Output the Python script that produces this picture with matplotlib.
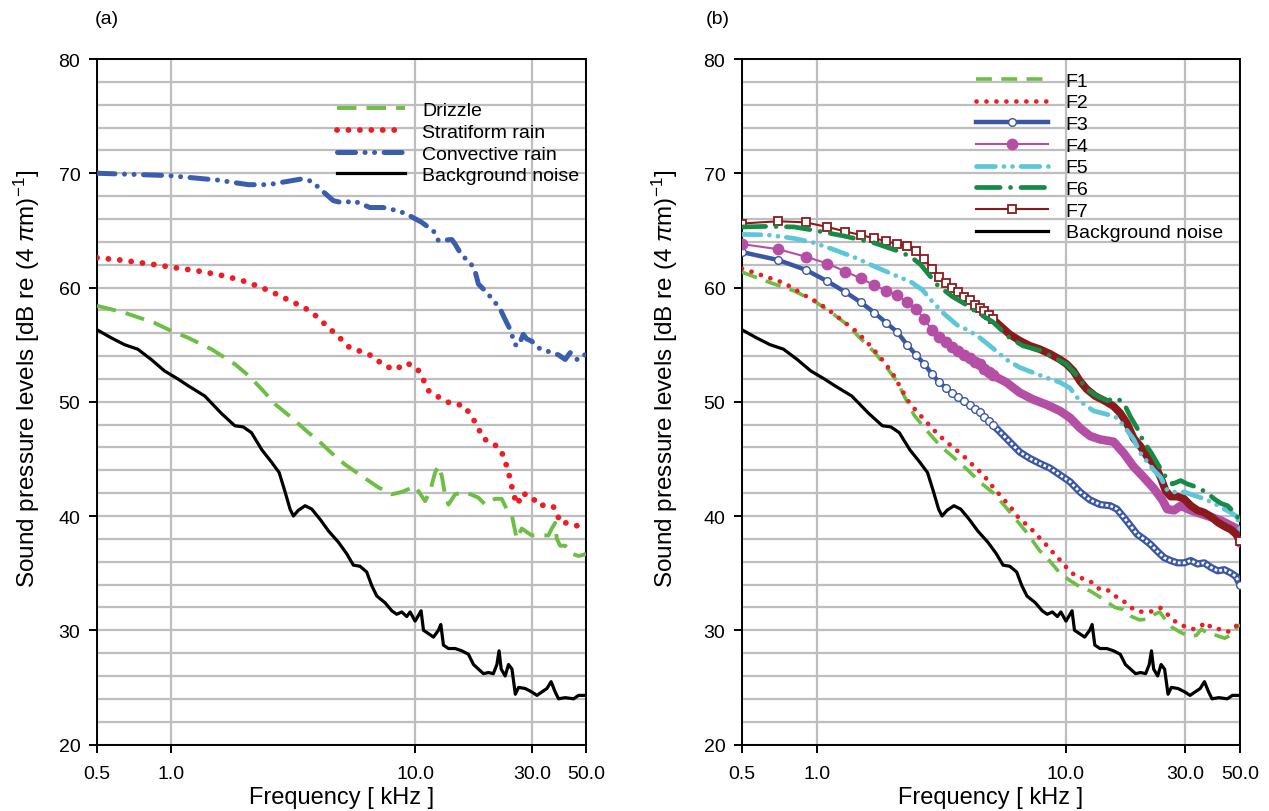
import numpy as np
import matplotlib
matplotlib.use("Agg")
import matplotlib.pyplot as plt
from matplotlib.ticker import FixedLocator, NullLocator, MultipleLocator

plt.rcParams['font.family'] = ['Liberation Sans', 'DejaVu Sans']
plt.rcParams['mathtext.fontset'] = 'custom'
plt.rcParams['mathtext.rm'] = 'Liberation Sans'
plt.rcParams['mathtext.it'] = 'Liberation Sans:italic'

# ---------------- data (frequency in kHz, level in dB) ----------------
bg_f = [0.5, 0.571, 0.647, 0.734, 0.833, 0.944, 1.07, 1.18, 1.38, 1.61, 1.83, 1.98, 2.14, 2.36, 2.59,
        2.78, 2.94, 3.08, 3.18, 3.33, 3.55, 3.78, 4.09, 4.42, 4.86, 5.25, 5.59, 5.95, 6.34, 6.65, 6.97,
        7.54, 8.03, 8.41, 8.82, 9.24, 9.54, 10.0, 10.32, 10.58, 10.82, 11.35, 11.89, 12.46, 12.74, 13.06,
        13.69, 14.58, 15.53, 16.52, 17.33, 18.16, 19.04, 19.95, 20.9, 21.6, 22.05, 22.5, 23.35, 24.1, 24.9,
        25.7, 26.5, 28.2, 30.0, 31.5, 33.0, 34.6, 36.0, 37.4, 38.6, 41.1, 44.5, 46.6, 48.8, 50.0]
bg_v = [56.3, 55.6, 55.0, 54.6, 53.7, 52.7, 52.0, 51.4, 50.5, 49.0, 47.9, 47.8, 47.3, 45.8, 44.7,
        43.8, 42.1, 40.6, 40.0, 40.5, 40.9, 40.6, 39.7, 38.7, 37.7, 36.7, 35.7, 35.6, 35.1, 33.9, 33.0,
        32.4, 31.7, 31.4, 31.6, 31.2, 31.6, 30.8, 31.3, 31.7, 30.0, 29.7, 29.4, 30.0, 30.5, 28.7,
        28.4, 28.4, 28.2, 27.9, 27.0, 26.6, 26.2, 26.3, 26.2, 27.0, 28.2, 26.6, 26.0, 27.0, 26.6,
        24.4, 25.0, 24.9, 24.6, 24.3, 24.6, 24.9, 25.5, 24.6, 24.0, 24.1, 24.0, 24.3, 24.3, 24.3]

dz_f = [0.5, 0.647, 0.86, 1.007, 1.18, 1.47, 1.83, 2.08, 2.36, 2.67, 3.13, 3.66, 4.02, 4.56, 5.17,
        6.05, 7.08, 8.03, 8.82, 10.0, 10.99, 11.52, 12.07, 12.46, 12.86, 13.27, 13.69, 14.58, 16.02, 18.16,
        19.35, 21.2, 22.6, 23.7, 24.9, 25.7, 26.0, 27.3, 30.0, 33.0, 35.1, 36.2, 37.4, 37.98, 39.2,
        41.1, 43.8, 46.6, 48.8, 50.0]
dz_v = [58.4, 57.8, 56.9, 56.2, 55.6, 54.6, 53.3, 52.3, 51.1, 49.8, 48.6, 47.3, 46.6, 45.5, 44.5,
        43.5, 42.5, 41.9, 42.1, 42.6, 41.3, 42.2, 43.8, 44.4, 43.5, 41.8, 41.0, 41.9, 42.1, 41.6,
        41.0, 41.5, 41.5, 40.6, 40.0, 38.6, 38.0, 38.9, 38.3, 38.3, 38.3, 38.9, 39.4, 38.0, 37.4,
        37.4, 36.7, 36.5, 36.6, 36.7]

st_f = [0.5, 0.627, 0.86, 1.07, 1.34, 1.67, 2.04, 2.28, 2.55, 2.84, 3.18, 3.55, 3.94, 4.37, 4.86,
        5.42, 6.01, 6.69, 7.42, 8.28, 9.24, 10.22, 10.82, 11.41, 12.74, 14.13, 15.77, 16.95, 18.05, 18.92,
        20.6, 22.3, 23.35, 24.1, 24.7, 25.3, 26.3, 27.3, 30.0, 32.0, 35.1, 36.8, 38.0, 39.2, 42.4,
        46.6, 50.0]
st_v = [62.6, 62.4, 62.0, 61.7, 61.4, 61.0, 60.5, 60.1, 59.7, 59.2, 58.7, 58.2, 57.5, 56.6, 55.7,
        54.7, 54.4, 54.0, 53.2, 52.8, 53.4, 52.9, 51.9, 50.9, 50.3, 49.8, 49.7, 48.8, 47.8, 46.8,
        46.4, 45.9, 44.8, 43.8, 42.85, 41.8, 41.0, 42.0, 41.7, 40.9, 41.0, 40.8, 40.3, 39.4, 39.4,
        39.1, 38.9]

cv_f = [0.5, 0.975, 1.56, 2.08, 2.51, 3.03, 3.43, 3.78, 4.15, 4.63, 5.10, 5.59, 6.54, 7.42, 8.15,
        9.10, 10.65, 11.89, 12.46, 14.13, 14.57, 15.53, 16.8, 17.6, 18.15, 19.35, 20.7, 22.3, 23.35, 24.5,
        25.6, 26.5, 27.7, 28.6, 30.0, 32.0, 35.1, 38.6, 41.1, 43.1, 45.9, 48.0, 50.0]
cv_v = [70.0, 69.8, 69.4, 69.0, 69.0, 69.3, 69.5, 69.3, 68.5, 67.6, 67.4, 67.6, 67.0, 67.0, 66.8,
        66.5, 65.7, 64.95, 64.1, 64.2, 63.8, 62.8, 62.2, 61.4, 60.3, 59.7, 59.0, 58.1, 57.2, 56.3,
        55.0, 54.9, 55.9, 55.5, 55.3, 54.7, 54.4, 54.1, 53.7, 54.3, 53.7, 54.1, 54.1]

f1_f = [0.5, 0.635, 0.81, 0.977, 1.175, 1.33, 1.50, 1.70, 1.92, 2.11, 2.24, 2.46, 2.78, 3.14, 3.55,
        4.02, 4.55, 5.12, 5.41, 5.67, 6.52, 6.93, 7.85, 8.35, 9.46, 10.38, 11.38, 12.48, 13.48, 14.56,
        15.72, 16.98, 18.34, 19.8, 21.4, 22.75, 23.8, 24.95, 26.53, 28.66, 30.95, 33.4, 35.0, 37.2, 40.2,
        43.4, 46.9, 48.7, 50.0]
f1_v = [61.35, 60.5, 59.7, 58.8, 57.6, 56.7, 55.5, 54.35, 52.9, 51.7, 50.5, 48.8, 47.4, 46.1, 45.1,
        44.05, 42.9, 42.0, 41.4, 40.9, 39.3, 38.6, 36.95, 36.4, 35.0, 34.35, 33.8, 33.45, 33.0, 32.5,
        32.0, 31.8, 31.2, 30.9, 31.0, 31.4, 31.6, 31.0, 30.3, 29.85, 29.5, 29.55, 30.1, 29.7, 29.55,
        29.3, 29.7, 30.3, 30.5]

f2_f = [0.5, 0.553, 0.613, 0.672, 0.736, 0.807, 0.886, 0.977, 1.07, 1.175, 1.30, 1.42, 1.56, 1.70, 1.84,
        2.01, 2.21, 2.35, 2.53, 2.76, 3.00, 3.26, 3.55, 3.90, 4.25, 4.66, 5.02, 5.49, 5.94, 6.36,
        6.89, 7.38, 7.90, 8.48, 9.03, 9.60, 10.22, 10.87, 11.74, 12.67, 13.56, 14.56, 15.58, 16.72, 18.74,
        20.3, 22.2, 23.98, 25.33, 26.53, 28.2, 30.2, 32.4, 34.5, 36.4, 38.5, 41.2, 44.4, 47.2, 50.0]
f2_v = [61.65, 61.35, 61.0, 60.7, 60.4, 59.9, 59.35, 58.85, 58.3, 57.65, 56.9, 56.25, 55.4, 54.5, 53.6,
        52.5, 50.9, 49.9, 49.1, 48.2, 47.35, 46.6, 45.95, 45.2, 44.4, 43.6, 42.7, 41.7, 40.9, 40.0,
        39.3, 38.7, 38.0, 37.3, 36.6, 36.0, 35.3, 34.8, 34.5, 34.2, 33.65, 33.6, 33.05, 32.7, 31.8,
        31.6, 31.65, 31.95, 31.5, 31.0, 30.6, 30.3, 30.1, 30.3, 30.7, 30.2, 30.1, 29.85, 30.1, 30.8]

f3_f = [0.5, 0.7, 0.9, 1.1, 1.3, 1.5, 1.7, 1.9, 2.1, 2.3, 2.5, 2.7, 2.9, 3.1, 3.3, 3.5, 3.7, 3.9,
        4.1, 4.3, 4.5, 4.7, 4.9, 5.1, 5.41, 5.94, 6.52, 7.15, 7.85, 8.61, 9.46, 10.38, 11.39, 12.5,
        13.72, 15.06, 16.03, 17.05, 18.15, 19.3, 20.5, 21.9, 23.3, 24.8, 26.33, 28.02, 29.82, 31.72,
        33.76, 35.92, 38.22, 40.67, 43.27, 46.04, 48.24, 50.0]
f3_v = [63.1, 62.4, 61.55, 60.55, 59.6, 58.7, 57.8, 56.9, 56.1, 55.0, 54.1, 53.3, 52.4, 51.7, 51.2,
        50.8, 50.4, 50.05, 49.7, 49.35, 49.1, 48.7, 48.3, 47.95, 47.4, 46.5, 45.6, 45.05, 44.6, 44.2,
        43.6, 43.0, 42.1, 41.4, 41.0, 40.9, 40.6, 39.9, 39.15, 38.4, 38.0, 37.5, 36.9, 36.35, 36.1,
        35.9, 35.9, 36.1, 35.8, 35.9, 35.5, 35.2, 35.3, 35.0, 34.7, 34.0]

f4_f = [0.5, 0.7, 0.9, 1.1, 1.3, 1.5, 1.7, 1.9, 2.1, 2.3, 2.5, 2.7, 2.9, 3.1, 3.3, 3.5, 3.7, 3.9,
        4.1, 4.3, 4.5, 4.7, 4.9, 5.1, 5.76, 6.52, 7.38, 8.35, 9.46, 10.38, 11.39, 12.5, 13.72, 15.54,
        17.05, 18.72, 20.5, 22.55, 24.4, 25.5, 27.2, 28.9, 31.72, 34.8, 38.22, 41.95, 46.04, 48.5, 50.0]
f4_v = [63.8, 63.35, 62.7, 62.1, 61.4, 60.8, 60.2, 59.7, 59.3, 58.7, 58.1, 57.2, 56.3, 55.7, 55.2,
        54.8, 54.4, 54.1, 53.8, 53.5, 53.3, 52.9, 52.6, 52.3, 51.7, 50.8, 50.2, 49.75, 49.2, 48.6,
        47.7, 47.0, 46.7, 46.5, 45.5, 44.3, 43.4, 42.4, 41.4, 40.6, 40.5, 40.9, 40.5, 40.2, 39.9,
        39.6, 39.15, 38.9, 37.6]

f5_f = [0.5, 0.635, 0.81, 0.977, 1.175, 1.41, 1.70, 2.04, 2.38, 2.65, 2.87, 3.24, 3.66, 4.02, 4.48,
        5.08, 5.76, 6.52, 7.38, 8.35, 9.46, 10.38, 11.39, 12.9, 14.6, 16.03, 17.59, 18.72, 19.92, 21.2,
        22.55, 23.99, 25.5, 27.2, 29.82, 32.7, 35.92, 39.4, 43.27, 46.04, 48.9, 50.0]
f5_v = [64.65, 64.6, 64.3, 63.9, 63.3, 62.65, 61.85, 61.1, 60.5, 59.8, 58.9, 57.7, 56.7, 56.3, 55.65,
        54.7, 53.7, 53.0, 52.55, 52.1, 51.7, 51.2, 50.05, 49.2, 48.9, 48.6, 47.5, 46.7, 45.5, 44.75,
        44.0, 43.4, 42.25, 42.1, 42.1, 41.8, 41.5, 41.1, 40.6, 40.3, 39.9, 38.6]

f6_f = [0.5, 0.635, 0.81, 0.977, 1.29, 1.70, 2.11, 2.38, 2.61, 3.05, 3.50, 3.90, 4.41, 5.08, 5.94,
        6.72, 7.85, 8.89, 10.06, 11.04, 12.12, 13.3, 14.6, 16.03, 17.05, 18.15, 19.3, 20.5, 21.9, 23.3,
        24.8, 26.75, 28.9, 30.75, 33.76, 37.05, 39.4, 41.95, 44.6, 47.5, 50.0]
f6_v = [65.3, 65.35, 65.3, 65.0, 64.5, 63.9, 63.2, 62.7, 62.0, 60.2, 59.2, 58.6, 57.8, 57.0, 55.6,
        54.9, 54.5, 53.9, 53.3, 52.3, 51.1, 50.5, 50.1, 50.3, 49.9, 48.7, 47.7, 46.5, 45.6, 44.6,
        43.6, 42.8, 43.1, 42.8, 42.5, 42.0, 41.5, 41.1, 40.9, 40.3, 39.6]

f7_f = [0.5, 0.7, 0.9, 1.1, 1.3, 1.5, 1.7, 1.9, 2.1, 2.3, 2.5, 2.7, 2.9, 3.1, 3.3, 3.5, 3.7, 3.9,
        4.1, 4.3, 4.5, 4.7, 4.9, 5.1, 5.41, 5.94, 6.52, 7.15, 7.85, 8.61, 9.46, 10.06, 10.71, 11.39,
        12.12, 13.1, 14.38, 15.54, 16.53, 17.59, 18.72, 19.92, 21.2, 22.55, 23.99, 25.14, 26.33, 28.02,
        29.82, 31.72, 33.76, 35.92, 38.22, 40.67, 43.27, 46.04, 48.24, 50.0]
f7_v = [65.6, 65.8, 65.7, 65.3, 64.9, 64.6, 64.3, 64.05, 63.8, 63.6, 63.2, 62.5, 61.6, 60.9, 60.4,
        60.0, 59.6, 59.2, 58.9, 58.5, 58.2, 57.9, 57.6, 57.2, 56.7, 55.9, 55.35, 54.9, 54.6, 54.2,
        53.7, 53.3, 52.7, 51.8, 51.1, 50.5, 50.05, 49.6, 49.0, 48.1, 46.8, 46.1, 45.2, 44.6, 43.4,
        42.2, 41.7, 41.7, 41.5, 40.9, 40.5, 40.3, 39.95, 39.45, 39.1, 38.8, 38.4, 37.8]

labels_a = ['Drizzle', 'Stratiform rain', 'Convective rain', 'Background noise']
labels_b = ['F1', 'F2', 'F3', 'F4', 'F5', 'F6', 'F7', 'Background noise']
xticks = [0.5, 1.0, 10.0, 30.0, 50.0]
xticklabels = ['0.5', '1.0', '10.0', '30.0', '50.0']

# ---------------- styles ----------------
C_GREEN = '#6DBE45'
C_RED = '#EE1D23'
C_BLUE = '#3A5DAE'
C_F3 = '#3B56A5'
C_F4 = '#B54FA6'
C_F5 = '#5CC6DA'
C_F6 = '#178B45'
C_F7 = '#8B1A1C'
GRID = '#BEBEBE'

W, H = 1269, 812
fig = plt.figure(figsize=(W / 100, H / 100), dpi=100)
top_px, bot_px = 60, 745.5
axA = fig.add_axes([97 / W, 1 - bot_px / H, (586 - 97) / W, (bot_px - top_px) / H])
axB = fig.add_axes([742 / W, 1 - bot_px / H, (1240 - 742) / W, (bot_px - top_px) / H])

ylabel = 'Sound pressure levels [dB re (4 $\\pi$m)$^{-1}$]'


def style(ax, lab_x):
    ax.set_xscale('log')
    ax.set_xlim(0.5, 50)
    ax.set_ylim(20, 80)
    ax.xaxis.set_major_locator(FixedLocator(xticks))
    ax.xaxis.set_minor_locator(NullLocator())
    ax.set_xticklabels(xticklabels)
    ax.yaxis.set_major_locator(MultipleLocator(10))
    ax.yaxis.set_minor_locator(MultipleLocator(2))
    ax.set_axisbelow(True)
    ax.grid(True, axis='y', which='both', color=GRID, lw=1.6)
    ax.grid(True, axis='x', which='major', color=GRID, lw=1.6)
    ax.tick_params(axis='both', which='major', direction='out', length=6, width=1.4,
                   labelsize=14, pad=6, color='black')
    ax.tick_params(axis='x', which='major', pad=9)
    ax.tick_params(axis='y', which='minor', length=0)
    for s in ax.spines.values():
        s.set_color('black')
        s.set_linewidth(1.4)
    ax.set_xlabel('Frequency [ kHz ]', fontsize=17, labelpad=3)
    ax.set_ylabel(ylabel, fontsize=17.5)
    ax.yaxis.set_label_coords(lab_x, 0.535)


style(axA, -0.112)
style(axB, -0.124)

# ---------------- panel (a) ----------------
hA = []
l, = axA.plot(dz_f, dz_v, color=C_GREEN, lw=2.8, ls=(0, (5.0, 2.6)), dash_capstyle='butt', zorder=3)
hA.append(l)
l, = axA.plot(st_f, st_v, color=C_RED, lw=4.2, ls=(0, (0.01, 1.95)), dash_capstyle='round', zorder=3)
hA.append(l)
l, = axA.plot(cv_f, cv_v, color=C_BLUE, lw=3.6, ls=(0, (3.6, 1.9, 0.01, 1.9, 0.01, 1.9)),
              dash_capstyle='round', zorder=3)
hA.append(l)
l, = axA.plot(bg_f, bg_v, color='black', lw=2.3, zorder=3)
hA.append(l)
axA.legend(hA, labels_a, loc='upper left', bbox_to_anchor=(0.49, 0.938), frameon=False,
           fontsize=14, handlelength=3.5, handletextpad=0.9, labelspacing=0.21,
           borderpad=0, borderaxespad=0)

# ---------------- panel (b) ----------------
hB = []
l, = axB.plot(f1_f, f1_v, color=C_GREEN, lw=2.6, ls=(0, (4.4, 2.6)), dash_capstyle='butt', zorder=3.1)
hB.append(l)
l, = axB.plot(f2_f, f2_v, color=C_RED, lw=3.4, ls=(0, (0.01, 2.1)), dash_capstyle='round', zorder=3.2)
hB.append(l)

f3_f_a = np.array(f3_f); f3_v_a = np.array(f3_v)
lo3 = f3_f_a <= 5.1
hi3 = f3_f_a >= 5.1
axB.plot(f3_f_a[hi3], f3_v_a[hi3], color=C_F3, lw=5.2, zorder=3.3, solid_capstyle='round')
axB.plot(f3_f_a[hi3], f3_v_a[hi3], color='white', lw=2.0, ls=(0, (1.0, 0.8)), zorder=3.31)
l, = axB.plot(f3_f_a[lo3], f3_v_a[lo3], color=C_F3, lw=3.2, marker='o', ms=5.5, mfc='white',
              mec=C_F3, mew=1.0, zorder=3.32)
axB.plot(f3_f_a[-1:], f3_v_a[-1:], ls='none', marker='o', ms=5.5, mfc='white', mec=C_F3, mew=1.0, zorder=3.33)
hB.append(l)

f4_f_a = np.array(f4_f); f4_v_a = np.array(f4_v)
lo4 = f4_f_a <= 5.1
hi4 = f4_f_a >= 5.1
axB.plot(f4_f_a[hi4], f4_v_a[hi4], color=C_F4, lw=6.2, zorder=3.4, solid_capstyle='round')
l, = axB.plot(f4_f_a[lo4], f4_v_a[lo4], color=C_F4, lw=1.5, marker='o', ms=7.5, mfc=C_F4,
              mec=C_F4, zorder=3.41)
hB.append(l)

l, = axB.plot(f5_f, f5_v, color=C_F5, lw=3.4, ls=(0, (4.0, 1.8, 0.01, 1.8, 0.01, 1.8)),
              dash_capstyle='round', zorder=3.6)
hB.append(l)
l, = axB.plot(f6_f, f6_v, color=C_F6, lw=3.4, ls=(0, (5.0, 2.2, 0.01, 2.2)),
              dash_capstyle='round', zorder=3.7)
hB.append(l)

f7_f_a = np.array(f7_f); f7_v_a = np.array(f7_v)
lo7 = f7_f_a <= 5.1
hi7 = f7_f_a >= 5.1
axB.plot(f7_f_a[hi7], f7_v_a[hi7], color=C_F7, lw=5.6, zorder=3.5, solid_capstyle='round')
l, = axB.plot(f7_f_a[lo7], f7_v_a[lo7], color=C_F7, lw=1.5, marker='s', ms=6, mfc='white',
              mec=C_F7, mew=1.3, zorder=3.51)
axB.plot(f7_f_a[-1:], f7_v_a[-1:], ls='none', marker='s', ms=6, mfc='white', mec=C_F7, mew=1.3, zorder=3.52)
hB.insert(6, l)

l, = axB.plot(bg_f, bg_v, color='black', lw=2.3, zorder=3.8)
hB.append(l)
axB.legend(hB, labels_b, loc='upper left', bbox_to_anchor=(0.47, 0.981), frameon=False,
           fontsize=14, handlelength=3.7, handletextpad=0.9, labelspacing=0.21,
           borderpad=0, borderaxespad=0)

fig.text(95 / W, 1 - 19 / H, '(a)', fontsize=14, va='center', ha='left')
fig.text(706 / W, 1 - 19 / H, '(b)', fontsize=14, va='center', ha='left')

fig.savefig('out.png', dpi=100)
